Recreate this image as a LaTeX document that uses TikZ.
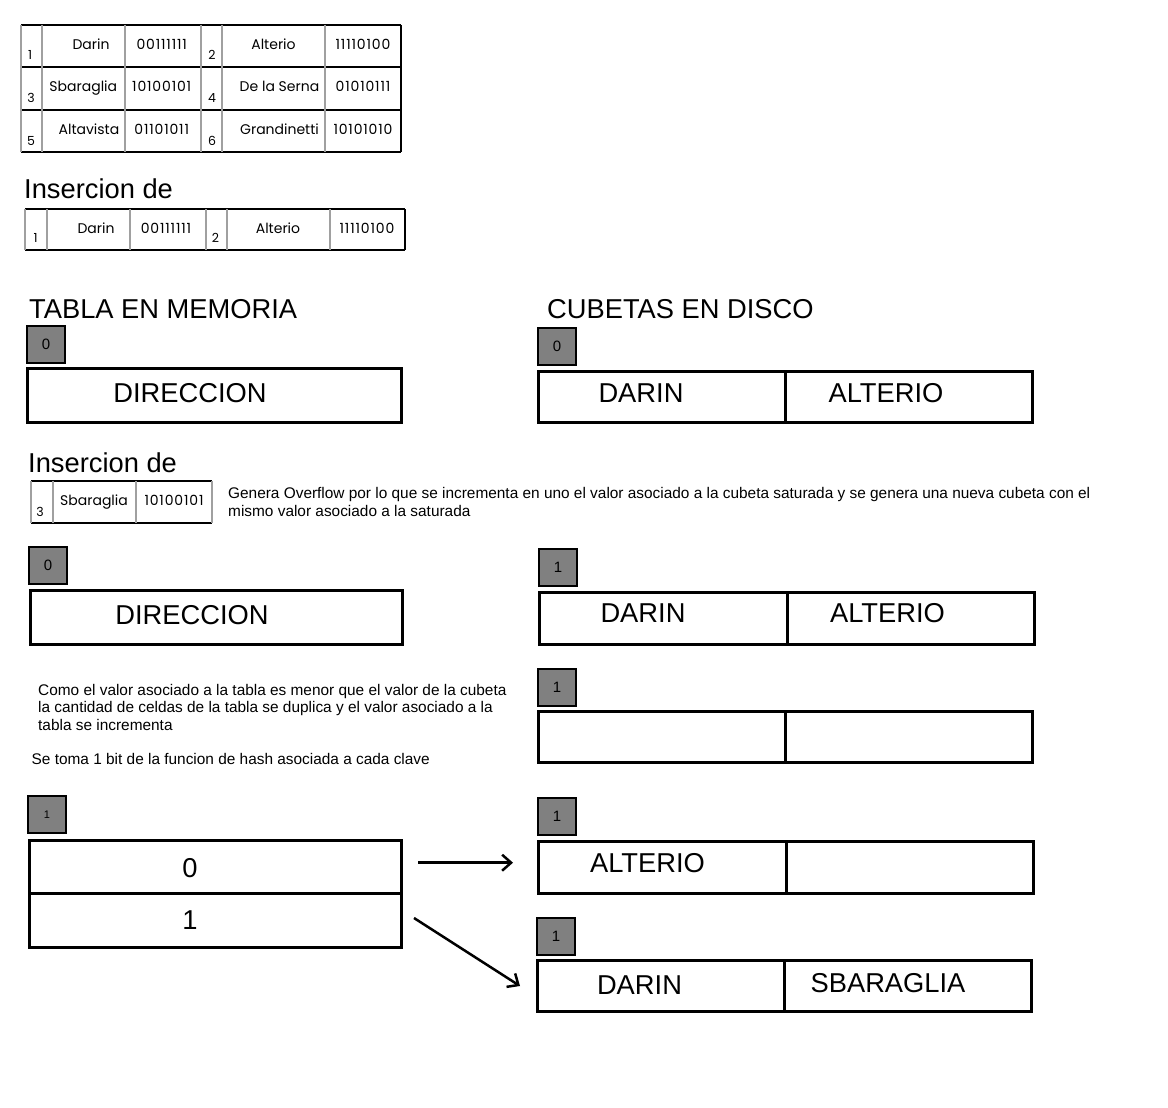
\documentclass[tikz,border=0pt]{standalone}
\usepackage{fontspec}
\setmainfont{Liberation Sans}
\newfontfamily\gothic{Poppins}
\newfontfamily\gothiccode[LetterSpace=6]{Poppins}
\usetikzlibrary{arrows.meta}
\definecolor{lvlgray}{HTML}{808080}
\definecolor{gridgray}{HTML}{A0A0A0}
\begin{document}
\begin{tikzpicture}[x=1pt,y=-1pt,
  lvl/.style={draw,line width=2.6pt,fill=lvlgray,minimum width=38pt,minimum height=37pt,inner sep=0pt,outer sep=0pt,anchor=north west,font=\fontsize{15}{17}\selectfont},
  cell/.style={draw,line width=3pt,inner sep=0pt,outer sep=0pt,anchor=north west},
  big/.style={font=\fontsize{27.3}{30}\selectfont,inner sep=0pt,anchor=base},
  head/.style={font=\fontsize{27.3}{30}\selectfont,inner sep=0pt,anchor=base west},
  tname/.style={font=\gothic\fontsize{14}{16}\selectfont,inner sep=0pt,anchor=base},
  tcode/.style={font=\gothiccode\fontsize{14}{16}\selectfont,inner sep=0pt,anchor=base},
  tidx/.style={font=\gothic\fontsize{12.5}{14}\selectfont,inner sep=0pt,anchor=base},
  body/.style={font=\fontsize{15.4}{18}\selectfont,inner sep=0pt,anchor=base west},
  hline/.style={line width=1.2pt,black},
  vline/.style={line width=1.6pt,gridgray},
  bline/.style={line width=1.2pt,black},
  arr/.style={line width=2.5pt,-{Straight Barb[length=9pt,width=16pt]}}
]
\fill[white] (0,0) rectangle (1168,1108);
\useasboundingbox (0,0) rectangle (1168,1108);

% ---------- table 1 ----------
\foreach \yy in {25,67,110,152} \draw[hline] (21,\yy) -- (401,\yy);
\foreach \xx in {21,42,125,201,222,325} \draw[vline] (\xx,25) -- (\xx,152);
\draw[bline] (401,25) -- (401,152);
\node[tidx] (t1i1) at (30,60) {1};
\node[tname] (t1n1) at (91,50) {Darin};
\node[tcode] (t1c1) at (161.7,50) {00111111};
\node[tidx] (t1i2) at (212,60) {2};
\node[tname] (t1n2) at (273.5,50) {Alterio};
\node[tcode] (t1c2) at (363,50) {11110100};
\node[tidx] (t1i3) at (31,102.5) {3};
\node[tname] (t1n3) at (83.3,92) {Sbaraglia};
\node[tcode] (t1c3) at (161.7,92) {10100101};
\node[tidx] (t1i4) at (212,102.5) {4};
\node[tname] (t1n4) at (279.5,92) {De la Serna};
\node[tcode] (t1c4) at (363,92) {01010111};
\node[tidx] (t1i5) at (31,145) {5};
\node[tname] (t1n5) at (89,134.5) {Altavista};
\node[tcode] (t1c5) at (161.7,134.5) {01101011};
\node[tidx] (t1i6) at (212,145) {6};
\node[tname] (t1n6) at (279.5,134.5) {Grandinetti};
\node[tcode] (t1c6) at (363,134.5) {10101010};

% ---------- heading + table 2 ----------
\node[head] (h1) at (24,198) {Insercion de};
\foreach \yy in {209,250} \draw[hline] (25,\yy) -- (405,\yy);
\foreach \xx in {25,47,130,206,227,330} \draw[vline] (\xx,209) -- (\xx,250);
\draw[bline] (405,209) -- (405,250);
\node[tidx] (t2i1) at (35.5,242) {1};
\node[tname] (t2n1) at (96,233) {Darin};
\node[tcode] (t2c1) at (166,233) {00111111};
\node[tidx] (t2i2) at (215.5,242) {2};
\node[tname] (t2n2) at (278,233) {Alterio};
\node[tcode] (t2c2) at (367,233) {11110100};

% ---------- headings ----------
\node[head] (hm) at (29,318) {TABLA EN MEMORIA};
\node[head] (hc) at (547,318) {CUBETAS EN DISCO};

% ---------- state 1 ----------
\node[lvl] (m1lvl) at (27,326) {0};
\node[cell,minimum width=374pt,minimum height=54pt] (m1dir) at (27,368) {};
\node[big] (m1t) at (190,402) {DIRECCION};

\node[lvl] (c1lvl) at (538,328) {0};
\node[cell,minimum width=247pt,minimum height=51pt] (c1a) at (538,371) {};
\node[cell,minimum width=247pt,minimum height=51pt] (c1b) at (785,371) {};
\node[big] (c1at) at (641,402) {DARIN};
\node[big] (c1bt) at (886,402) {ALTERIO};

% ---------- heading + table 3 ----------
\node[head] (h2) at (28,472) {Insercion de};
\foreach \yy in {481,523} \draw[hline] (31,\yy) -- (212,\yy);
\foreach \xx in {31,53,136,212} \draw[vline] (\xx,481) -- (\xx,523);
\node[tidx] (t3i1) at (40,516) {3};
\node[tname] (t3n1) at (94,505) {Sbaraglia};
\node[tcode] (t3c1) at (174,505) {10100101};

\node[body] (g1) at (228,498) {Genera Overflow por lo que se incrementa en uno el valor asociado a la cubeta saturada y se genera una nueva cubeta con el};
\node[body] (g2) at (228,516) {mismo valor asociado a la saturada};

% ---------- state 2 ----------
\node[lvl] (m2lvl) at (29,547) {0};
\node[cell,minimum width=372pt,minimum height=54pt] (m2dir) at (30,590) {};
\node[big] (m2t) at (192,624) {DIRECCION};

\node[lvl] (c2lvl) at (539,549) {1};
\node[cell,minimum width=248pt,minimum height=52pt] (c2a) at (539,592) {};
\node[cell,minimum width=247pt,minimum height=52pt] (c2b) at (787,592) {};
\node[big] (c2at) at (643,622) {DARIN};
\node[big] (c2bt) at (887.5,622) {ALTERIO};

\node[lvl] (c3lvl) at (538,669) {1};
\node[cell,minimum width=247pt,minimum height=51pt] (c3a) at (538,711) {};
\node[cell,minimum width=247pt,minimum height=51pt] (c3b) at (785,711) {};

\node[body] (k1) at (38,695) {Como el valor asociado a la tabla es menor que el valor de la cubeta};
\node[body] (k2) at (38,712.5) {la cantidad de celdas de la tabla se duplica y el valor asociado a la};
\node[body] (k3) at (38,730) {tabla se incrementa};
\node[body] (s1) at (31.5,764.5) {Se toma 1 bit de la funcion de hash asociada a cada clave};

% ---------- state 3 ----------
\node[lvl,font=\fontsize{11}{13}\selectfont] (m3lvl) at (28,796) {1};
\node[cell,minimum width=372pt,minimum height=53pt] (m3a) at (29,840) {};
\node[cell,minimum width=372pt,minimum height=54pt] (m3b) at (29,893) {};
\node[big] (m3at) at (190,877) {0};
\node[big] (m3bt) at (190,929) {1};

\node[lvl] (c4lvl) at (538,798) {1};
\node[cell,minimum width=248pt,minimum height=52pt] (c4a) at (538,841) {};
\node[cell,minimum width=247pt,minimum height=52pt] (c4b) at (786,841) {};
\node[big] (c4at) at (647.5,872) {ALTERIO};

\node[lvl] (c5lvl) at (537,918) {1};
\node[cell,minimum width=247pt,minimum height=51pt] (c5a) at (537,960) {};
\node[cell,minimum width=247pt,minimum height=51pt] (c5b) at (784,960) {};
\node[big] (c5at) at (639.5,994) {DARIN};
\node[big] (c5bt) at (888,992) {SBARAGLIA};

% ---------- arrows ----------
\coordinate (a1s) at (418,862.7);
\coordinate (a1e) at (513,862.7);
\coordinate (a2s) at (414,918);
\coordinate (a2e) at (520,986);
\draw[arr] (a1s) -- (a1e);
\draw[arr] (a2s) -- (a2e);
\end{tikzpicture}
\end{document}
